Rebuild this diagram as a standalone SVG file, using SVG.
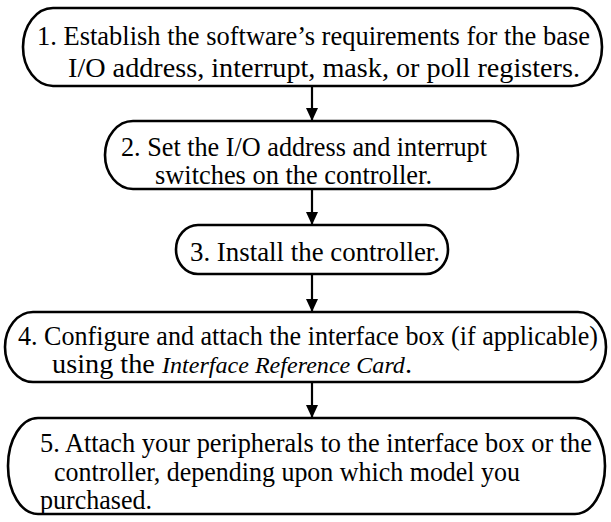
<svg xmlns="http://www.w3.org/2000/svg" width="611" height="522" viewBox="0 0 611 522">
  <defs>
    <marker id="arrow" markerWidth="13" markerHeight="12" refX="13" refY="6" orient="auto" markerUnits="userSpaceOnUse">
      <path d="M0,0 L13,6 L0,12 Z" fill="#000"/>
    </marker>
    <style>
      .box { fill: #fff; stroke: #000; stroke-width: 2.6; }
      .t { font-family: "Liberation Serif", "Times New Roman", serif; font-size: 27px; fill: #000; }
      .i { font-style: italic; font-size: 23px; }
      .conn { stroke: #000; stroke-width: 2.2; fill: none; marker-end: url(#arrow); }
    </style>
  </defs>

  <rect width="611" height="522" fill="#fff"/>

  <g id="connectors">
    <line class="conn" x1="312" y1="86" x2="312" y2="121"/>
    <line class="conn" x1="312" y1="189" x2="312" y2="225"/>
    <line class="conn" x1="312" y1="274" x2="312" y2="312"/>
    <line class="conn" x1="312" y1="382" x2="312" y2="418"/>
  </g>

  <g id="step1">
    <rect class="box" x="23" y="8" width="579" height="78" rx="30" ry="39"/>
    <text class="t" x="37" y="45" textLength="553" lengthAdjust="spacingAndGlyphs">1. Establish the software’s requirements for the base</text>
    <text class="t" x="68" y="77" textLength="512" lengthAdjust="spacingAndGlyphs">I/O address, interrupt, mask, or poll registers.</text>
  </g>

  <g id="step2">
    <rect class="box" x="105" y="121" width="413" height="68" rx="28" ry="34"/>
    <text class="t" x="121" y="156" textLength="366" lengthAdjust="spacingAndGlyphs">2. Set the I/O address and interrupt</text>
    <text class="t" x="155" y="184" textLength="277" lengthAdjust="spacingAndGlyphs">switches on the controller.</text>
  </g>

  <g id="step3">
    <rect class="box" x="176" y="225" width="272" height="49" rx="22" ry="24.5"/>
    <text class="t" x="190" y="261" textLength="250" lengthAdjust="spacingAndGlyphs">3. Install the controller.</text>
  </g>

  <g id="step4">
    <rect class="box" x="5" y="312" width="601" height="70" rx="28" ry="35"/>
    <text class="t" x="18" y="345" textLength="580" lengthAdjust="spacingAndGlyphs">4. Configure and attach the interface box (if applicable)</text>
    <text class="t" x="52" y="373" textLength="360" lengthAdjust="spacingAndGlyphs">using the <tspan class="i">Interface Reference Card</tspan>.</text>
  </g>

  <g id="step5">
    <rect class="box" x="8" y="418" width="597" height="96" rx="30" ry="48"/>
    <text class="t" x="40" y="452" textLength="552" lengthAdjust="spacingAndGlyphs">5. Attach your peripherals to the interface box or the</text>
    <text class="t" x="54" y="481" textLength="466" lengthAdjust="spacingAndGlyphs">controller, depending upon which model you</text>
    <text class="t" x="40" y="509" textLength="112" lengthAdjust="spacingAndGlyphs">purchased.</text>
  </g>
</svg>
